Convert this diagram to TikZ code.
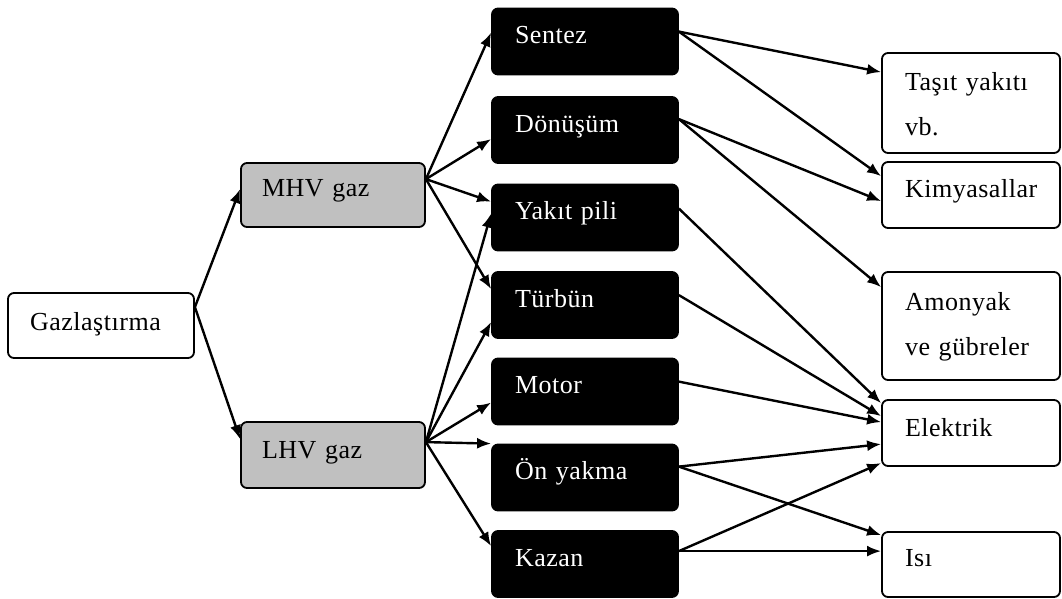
\documentclass[tikz,border=0pt]{standalone}
\usepackage{fontspec}
\setmainfont{Liberation Serif}[LetterSpace=2]
\usetikzlibrary{arrows.meta,calc}
\definecolor{boxgray}{RGB}{192,192,192}
\tikzset{
  base/.style={draw, rounded corners=6pt, line width=1.8pt, align=left, inner ysep=0pt,
    inner xsep=23pt, font=\fontsize{26}{45}\selectfont, text height=35pt},
  wbox/.style={base, fill=white, text=black},
  gbox/.style={base, fill=boxgray, text=black},
  bbox/.style={base, fill=black, text=white},
  midbox/.style={bbox, text width=140pt, text depth=31pt},
  rbox/.style={wbox, text width=132pt},
  arr/.style={line width=2.4pt, -{Latex[length=14pt,width=11pt]}},
}
\begin{document}
\begin{tikzpicture}[x=1pt,y=-1pt]
\useasboundingbox (0,0) rectangle (1062,598);
% left
\node[wbox, inner xsep=22pt, text width=142pt, text height=37pt, text depth=28pt] (gaz) at (101,325.5) {\mbox{Gazlaştırma}};
\node[gbox, inner xsep=21pt, text width=142pt, text height=33pt, text depth=31pt] (mhv) at (333,195) {\mbox{MHV gaz}};
\node[gbox, inner xsep=21pt, text width=142pt, text height=36pt, text depth=30pt] (lhv) at (333,455) {\mbox{LHV gaz}};
% middle
\node[midbox] (sentez) at (585,41.5) {\mbox{Sentez}};
\node[midbox] (donusum) at (585,130) {\mbox{Dönüşüm}};
\node[midbox] (yakit) at (585,217.5) {\mbox{Yakıt pili}};
\node[midbox] (turbun) at (585,305) {\mbox{Türbün}};
\node[midbox] (motor) at (585,391.5) {\mbox{Motor}};
\node[midbox] (onyakma) at (585,477.5) {\mbox{Ön yakma}};
\node[midbox] (kazan) at (585,564) {\mbox{Kazan}};
% right
\node[rbox, text height=37pt, text depth=63pt] (tasit) at (971,103) {\mbox{Taşıt yakıtı}\\\mbox{vb.}};
\node[rbox, text depth=31pt] (kimya) at (971,195) {\mbox{Kimyasallar}};
\node[rbox, text height=38pt, text depth=70pt] (amonyak) at (971,326) {\mbox{Amonyak}\\\mbox{ve gübreler}};
\node[rbox, text height=36pt, text depth=30pt] (elektrik) at (971,433) {\mbox{Elektrik}};
\node[rbox, text height=34pt, text depth=31pt] (isi) at (971,564.5) {\mbox{Isı}};
% connectors: left
\draw[arr] ($(gaz.north east)+(0,15)$) -- ($(mhv.north west)+(0,27)$);
\draw[arr] ($(gaz.north east)+(0,15)$) -- ($(lhv.north west)+(0,18)$);
% MHV
\draw[arr] ($(mhv.north east)+(0,17)$) -- ($(sentez.north west)+(0,25)$);
\draw[arr] ($(mhv.north east)+(0,17)$) -- ($(donusum.north west)+(0,43)$);
\draw[arr] ($(mhv.north east)+(0,17)$) -- ($(yakit.north west)+(0,18)$);
\draw[arr] ($(mhv.north east)+(0,17)$) -- ($(turbun.north west)+(0,18)$);
% LHV
\draw[arr] ($(lhv.north east)+(0,21)$) -- ($(yakit.north west)+(0,30)$);
\draw[arr] ($(lhv.north east)+(0,21)$) -- ($(turbun.north west)+(0,51)$);
\draw[arr] ($(lhv.north east)+(0,21)$) -- ($(motor.north west)+(0,45)$);
\draw[arr] ($(lhv.north east)+(0,21)$) -- ($(onyakma.north west)+(0,0)$);
\draw[arr] ($(lhv.north east)+(0,21)$) -- ($(kazan.north west)+(0,16)$);
% middle -> right
\draw[arr] ($(sentez.north east)+(0,24)$) -- ($(tasit.north west)+(0,20)$);
\draw[arr] ($(sentez.north east)+(0,24)$) -- ($(kimya.north west)+(0,15)$);
\draw[arr] ($(donusum.north east)+(0,23)$) -- ($(kimya.north west)+(0,40)$);
\draw[arr] ($(donusum.north east)+(0,23)$) -- ($(amonyak.north west)+(0,16)$);
\draw[arr] ($(yakit.north east)+(0,25)$) -- ($(elektrik.north west)+(0,4)$);
\draw[arr] ($(turbun.north east)+(0,24)$) -- ($(elektrik.north west)+(0,17)$);
\draw[arr] ($(motor.north east)+(0,24)$) -- ($(elektrik.north west)+(0,23)$);
\draw[arr] ($(onyakma.north east)+(0,23)$) -- ($(elektrik.north west)+(0,45)$);
\draw[arr] ($(onyakma.north east)+(0,23)$) -- ($(isi.north west)+(0,4)$);
\draw[arr] ($(kazan.north east)+(0,21)$) -- ($(elektrik.north west)+(0,64)$);
\draw[arr] ($(kazan.north east)+(0,21)$) -- ($(isi.north west)+(0,20)$);
\end{tikzpicture}
\end{document}
